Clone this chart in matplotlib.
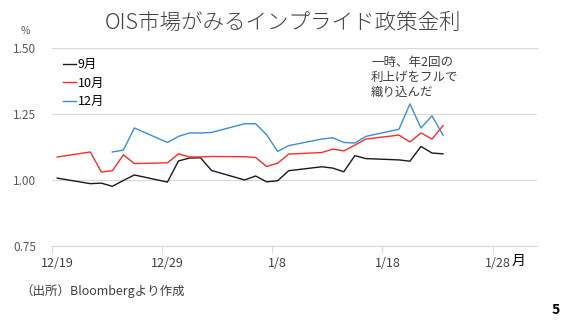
import numpy as np
import pandas as pd
import matplotlib
matplotlib.use("Agg")
import matplotlib.pyplot as plt

plt.rcParams['font.family'] = ['Noto Sans CJK JP', 'DejaVu Sans']

# data
dates = ["2025-12-19", "2025-12-22", "2025-12-23", "2025-12-24", "2025-12-25",
         "2025-12-26", "2025-12-29", "2025-12-30", "2025-12-31", "2026-01-01",
         "2026-01-02", "2026-01-05", "2026-01-06", "2026-01-07", "2026-01-08",
         "2026-01-09", "2026-01-12", "2026-01-13", "2026-01-14", "2026-01-15",
         "2026-01-16", "2026-01-19", "2026-01-20", "2026-01-21", "2026-01-22",
         "2026-01-23"]
sep = [1.006, 0.985, 0.987, 0.975, 0.997, 1.018, 0.991, 1.071, 1.082, 1.083,
       1.035, 0.999, 1.014, 0.992, 0.996, 1.034, 1.049, 1.044, 1.030, 1.091,
       1.080, 1.075, 1.070, 1.126, 1.101, 1.098]
octo = [1.086, 1.105, 1.029, 1.034, 1.094, 1.061, 1.064, 1.098, 1.086, 1.086,
        1.088, 1.087, 1.084, 1.050, 1.063, 1.097, 1.103, 1.116, 1.109, 1.131,
        1.154, 1.169, 1.143, 1.177, 1.154, 1.205]
dec = [np.nan, np.nan, np.nan, 1.105, 1.112, 1.196, 1.141, 1.164, 1.177, 1.177,
       1.179, 1.212, 1.212, 1.170, 1.107, 1.129, 1.154, 1.159, 1.141, 1.139,
       1.164, 1.191, 1.287, 1.196, 1.242, 1.169]
labels = ["9月", "10月", "12月"]
colors = ["#1a1a1a", "#ff2a2a", "#3a8dd6"]
tick_dates = ["2025-12-19", "2025-12-29", "2026-01-08", "2026-01-18", "2026-01-28"]
tick_labels = ["12/19", "12/29", "1/8", "1/18", "1/28"]
yticks = [0.75, 1.00, 1.25, 1.50]

W, H = 567, 325


def fx(px):
    return px / W


def fy(py):
    return 1 - py / H


fig = plt.figure(figsize=(W / 100, H / 100), dpi=100)
ax = fig.add_axes([fx(51.7), fy(245.7), (536.7 - 51.7) / W, (245.7 - 47.7) / H])

# points sit in the middle of each day slot
x = pd.to_datetime(dates) + pd.Timedelta(hours=12)
for vals, lab, c in zip([sep, octo, dec], labels, colors):
    ax.plot(x, vals, color=c, lw=1.0, label=lab)

ax.set_xlim(pd.Timestamp("2025-12-19"), pd.Timestamp("2026-02-01"))
ax.set_ylim(0.75, 1.50)

ax.set_yticks(yticks)
ax.set_yticklabels(["%.2f" % v for v in yticks])
ax.tick_params(axis='y', length=0, pad=11, labelsize=8.5, labelcolor='#595959')

td = pd.to_datetime(tick_dates)
ax.set_xticks(td)
ax.set_xticklabels([])
ax.set_xticks(td + pd.Timedelta(hours=12), minor=True)
ax.set_xticklabels(tick_labels, minor=True)
ax.tick_params(axis='x', which='major', length=5, color='#d9d9d9', width=0.8)
ax.tick_params(axis='x', which='minor', length=0, pad=8, labelsize=9, labelcolor='#404040')

ax.grid(axis='y', color='#d9d9d9', lw=0.8)
ax.set_axisbelow(True)
for s in ['left', 'right']:
    ax.spines[s].set_visible(False)
for s in ['top', 'bottom']:
    ax.spines[s].set_color('#d9d9d9')
    ax.spines[s].set_linewidth(0.8)

ax.legend(loc='upper left', bbox_to_anchor=(fx(63), fy(58)), bbox_transform=fig.transFigure,
          frameon=False, fontsize=9, handlelength=1.0, handletextpad=0.2,
          labelspacing=0.45, borderpad=0, borderaxespad=0)

fig.text(0.5, fy(23), "OIS市場がみるインプライド政策金利", ha='center', va='center',
         fontsize=15.5, color='#404040', fontweight='light')
fig.text(fx(25.5), fy(31), "%", ha='center', va='center', fontsize=7.5, color='#595959')
fig.text(fx(371), fy(56), "一時、年2回の\n利上げをフルで\n織り込んだ", ha='left', va='top',
         fontsize=9, color='#404040', linespacing=1.2)
fig.text(fx(519), fy(261), "月", ha='center', va='center', fontsize=10, color='black')
fig.text(fx(20), fy(291), "（出所）Bloombergより作成", ha='left', va='center',
         fontsize=9, color='#404040')
fig.text(fx(556), fy(310), "5", ha='center', va='center', fontsize=10,
         fontweight='bold', color='black')

fig.savefig("out.png", dpi=100)
